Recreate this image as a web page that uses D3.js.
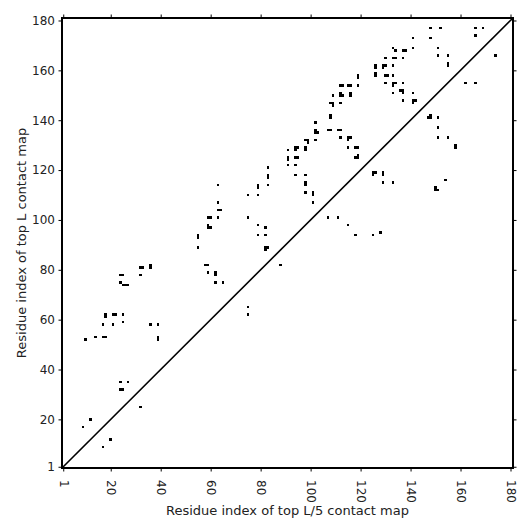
<!DOCTYPE html>
<html>
<head>
<meta charset="utf-8">
<script src="https://cdn.jsdelivr.net/npm/d3@7"></script>
<style>
    body { margin: 0; background: #fff; }
    text { font-family: "DejaVu Sans", sans-serif; }
</style>
</head>
<body>
<div id="chart"></div>
<script>
// Contact pairs [residue i, residue j] read from the map
// above the diagonal
var upperContacts = [
    [148,177],[152,177],[166,177],[169,177],[166,174],[148,173],[141,173],
    [133,169],[134,168],[137,168],[138,168],[141,169],[151,169],
    [133,165],[134,165],[137,165],[151,166],[155,166],[155,163],[155,162],[130,165],
    [126,162],[126,161],[129,162],[130,162],[129,161],[133,162],
    [126,159],[126,158],[130,158],[131,158],[133,158],[119,158],[119,157],
    [130,155],[133,155],[133,154],[134,155],[137,155],
    [136,152],[137,152],[137,151],[133,151],[141,151],
    [137,148],[141,148],[142,148],[141,147],
    [112,154],[113,154],[115,154],[116,154],[119,154],
    [109,150],[112,151],[112,150],[113,150],[116,151],[116,150],
    [108,147],[109,147],[109,146],[112,147],[108,142],[108,141],
    [102,139],[102,136],[102,135],[103,135],[107,136],[108,136],[111,136],[112,136],
    [102,132],[98,132],[99,132],[99,131],[112,133],[115,133],[116,133],[115,132],
    [115,129],[118,129],[119,129],[118,125],[119,126],[119,125],
    [98,129],[98,128],[94,129],[95,129],[94,128],[91,128],
    [91,125],[91,124],[94,125],[95,125],[91,122],[94,122],[83,121],
    [83,118],[83,117],[94,118],[98,118],[98,115],[98,114],
    [83,114],[79,114],[79,113],[63,114],[79,110],[75,110],
    [98,111],[101,111],[101,110],[101,107],[63,107],[63,104],[64,104],
    [63,101],[59,101],[60,101],[59,98],[59,97],[60,97],[75,101],
    [79,98],[79,94],[82,97],[82,94],[82,89],[83,89],[82,88],
    [58,82],[59,82],[59,79],[62,79],[62,78],[62,75],[65,75],
    [55,94],[55,93],[55,89],
    [32,81],[33,81],[36,82],[36,81],[32,78],[24,78],[25,78],
    [24,75],[25,74],[26,74],[27,74],
    [18,62],[18,61],[21,62],[22,62],[25,62],[25,59],[21,58],[17,58],
    [36,58],[39,58],[39,53],[39,52],[17,53],[18,53],[14,53],[10,52],
    [24,35],[27,35],[24,32],[25,32],[12,20],[9,17]
];

// below the diagonal
var lowerContacts = [
    [162,155],[166,155],[174,166],
    [147,141],[148,141],[148,142],[151,141],[151,137],[151,133],[155,133],
    [158,130],[158,129],
    [125,119],[126,119],[125,118],[129,119],[129,118],[129,115],[133,115],
    [150,113],[151,112],[150,112],[154,116],
    [107,101],[111,101],[115,98],[118,94],[125,94],[128,95],
    [88,82],[75,65],[75,62],
    [32,25],[20,12],[17,9]
];

var tickValues = [1, 20, 40, 60, 80, 100, 120, 140, 160, 180];
var residueRange = [0.5, 181];

// Set svg dimensions
var svgWidth = 531;
var svgHeight = 531;

var margin = {
    top: 18,
    right: 18,
    bottom: 63,
    left: 62
};

var width = svgWidth - margin.left - margin.right;
var height = svgHeight - margin.top - margin.bottom;

var svg = d3
    .select("#chart")
    .append("svg")
    .attr("width", svgWidth)
    .attr("height", svgHeight);

var chartGroup = svg.append("g")
    .attr("transform", `translate(${margin.left}, ${margin.top})`);

var xScale = d3.scaleLinear()
    .domain(residueRange)
    .range([0, width]);

var yScale = d3.scaleLinear()
    .domain(residueRange)
    .range([height, 0]);

// contact cells, one residue wide
var allContacts = upperContacts.concat(lowerContacts);

chartGroup.append("g")
    .selectAll("rect")
    .data(allContacts)
    .enter()
    .append("rect")
    .attr("x", d => xScale(d[0] - 0.5))
    .attr("y", d => yScale(d[1] + 0.5))
    .attr("width", d => xScale(d[0] + 0.5) - xScale(d[0] - 0.5))
    .attr("height", d => yScale(d[1] - 0.5) - yScale(d[1] + 0.5))
    .attr("fill", "black")
    .attr("shape-rendering", "crispEdges");

// diagonal
chartGroup.append("line")
    .attr("x1", xScale(residueRange[0]))
    .attr("y1", yScale(residueRange[0]))
    .attr("x2", xScale(residueRange[1]))
    .attr("y2", yScale(residueRange[1]))
    .attr("stroke", "black")
    .attr("stroke-width", 1.6);

// axes on all four sides, labels only bottom and left
var bottomAxis = d3.axisBottom(xScale).tickValues(tickValues).tickSize(3.5).tickPadding(3);
var leftAxis = d3.axisLeft(yScale).tickValues(tickValues).tickSize(3.5).tickPadding(3.5);
var topAxis = d3.axisTop(xScale).tickValues(tickValues).tickSize(3.5).tickFormat("");
var rightAxis = d3.axisRight(yScale).tickValues(tickValues).tickSize(3.5).tickFormat("");

var xAxis = chartGroup.append("g")
    .attr("transform", `translate(0, ${height})`)
    .call(bottomAxis);

xAxis.selectAll("text")
    .attr("transform", "rotate(90)")
    .attr("x", 12)
    .attr("y", 0)
    .attr("dy", "0.35em")
    .attr("text-anchor", "start");

var yAxis = chartGroup.append("g")
    .call(leftAxis);

chartGroup.append("g").call(topAxis);
chartGroup.append("g")
    .attr("transform", `translate(${width}, 0)`)
    .call(rightAxis);

chartGroup.selectAll(".tick text")
    .attr("fill", "#222")
    .style("font-size", "12px")
    .style("font-family", "DejaVu Sans");

chartGroup.selectAll(".tick line")
    .attr("stroke", "black")
    .attr("stroke-width", 1);

chartGroup.selectAll(".domain").remove();

// frame
chartGroup.append("rect")
    .attr("width", width)
    .attr("height", height)
    .attr("fill", "none")
    .attr("stroke", "black")
    .attr("stroke-width", 2);

// axis labels
chartGroup.append("text")
    .attr("x", width / 2)
    .attr("y", height + 47)
    .attr("text-anchor", "middle")
    .style("font-size", "13px")
    .attr("fill", "#222")
    .text("Residue index of top L/5 contact map");

chartGroup.append("text")
    .attr("transform", `translate(-36, ${height / 2})rotate(-90)`)
    .attr("text-anchor", "middle")
    .style("font-size", "13px")
    .attr("fill", "#222")
    .text("Residue index of top L contact map");
</script>
</body>
</html>
